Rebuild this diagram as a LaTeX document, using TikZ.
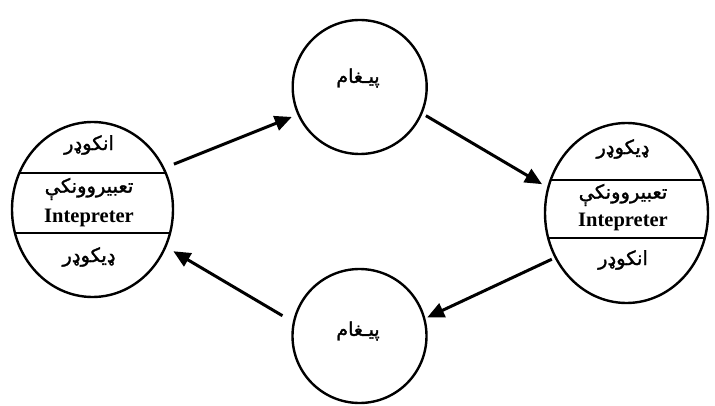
\documentclass[tikz,border=0pt]{standalone}
\usepackage{fontspec}
\setmainfont{Liberation Serif}
\newfontfamily\arabicfont[Script=Arabic,FakeBold=1.5]{DejaVu Sans}
\TeXXeTstate=1
\usetikzlibrary{shapes.geometric,arrows.meta}
\tikzset{
  bubble/.style={ellipse, draw, line width=2.4pt, inner sep=0pt},
  conn/.style={line width=3pt, -{Triangle[length=17pt,width=15pt]}},
  divider/.style={line width=1.6pt},
  ar/.style={font=\arabicfont\fontsize{19.5}{22}\selectfont, inner sep=0pt},
  msg/.style={font=\arabicfont\fontsize{19}{22}\selectfont, inner sep=0pt},
  lat/.style={font=\bfseries\fontsize{20.5}{23}\selectfont, inner sep=0pt},
}
\begin{document}
\begin{tikzpicture}[x=1pt,y=-1pt]
\useasboundingbox (0,0) rectangle (715,406);
% bubbles
\node[bubble, minimum width=161pt, minimum height=175pt] (L) at (92.5,209.5) {};
\node[bubble, minimum width=163pt, minimum height=180pt] (R) at (626.5,213) {};
\node[bubble, minimum width=134pt, minimum height=134pt] (T) at (359.7,87) {};
\node[bubble, minimum width=134pt, minimum height=134pt] (B) at (359.5,336) {};
% dividers
\begin{scope}
  \clip (L.center) ellipse [x radius=80.5, y radius=87.5];
  \draw[divider] (0,173) -- (200,173);
  \draw[divider] (0,233) -- (200,233);
\end{scope}
\begin{scope}
  \clip (R.center) ellipse [x radius=81.5, y radius=90];
  \draw[divider] (500,180) -- (715,180);
  \draw[divider] (500,238) -- (715,238);
\end{scope}
% texts left
\node[ar] (l1) at (89,145) {\beginR انکوډر\endR};
\node[ar] (l2) at (89,189) {\beginR تعبیروونکې\endR};
\node[lat] (l3) at (89,218) {Intepreter};
\node[ar] (l4) at (89,257) {\beginR ډیکوډر\endR};
% texts right
\node[ar] (r1) at (623,149) {\beginR ډیکوډر\endR};
\node[ar] (r2) at (623,195) {\beginR تعبیروونکې\endR};
\node[lat] (r3) at (623,222) {Intepreter};
\node[ar] (r4) at (623,260) {\beginR انکوډر\endR};
% messages
\node[msg] (t1) at (358,78) {\beginR پیـغام\endR};
\node[msg] (b1) at (358,331) {\beginR پیـغام\endR};
% connectors
\draw[conn, shorten <=10pt, shorten >=6pt] (L.30) -- (T.204);
\draw[conn, shorten <=4pt, shorten >=6pt] (T.337) -- (R.162);
\draw[conn, shorten <=3pt, shorten >=2pt] (R.212) -- (B.15);
\draw[conn, shorten <=12pt, shorten >=8pt] (B.168) -- (L.333);
\end{tikzpicture}
\end{document}
